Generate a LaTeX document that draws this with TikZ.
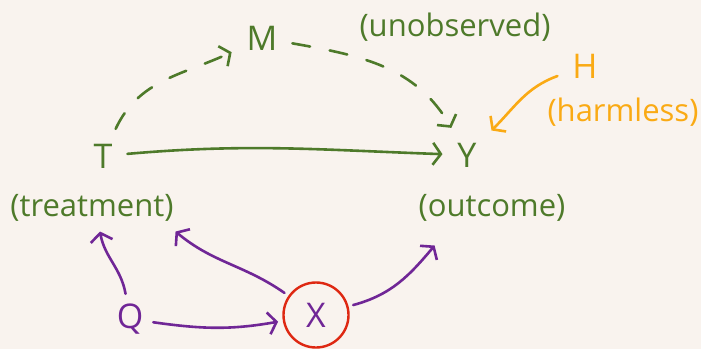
\documentclass[tikz,border=0pt]{standalone}
\usepackage{fontspec}
\setmainfont{Open Sans}
\usetikzlibrary{arrows.meta, positioning}

\definecolor{paper}{RGB}{249,243,238}
\definecolor{leaf}{RGB}{78,122,42}
\definecolor{amber}{RGB}{250,170,20}
\definecolor{grape}{RGB}{112,38,150}
\definecolor{ink}{RGB}{222,40,18}

\begin{document}
\begin{tikzpicture}[
    x=1pt, y=1pt,
    every node/.style={font=\fontsize{34}{38}\selectfont, inner sep=2pt, outer sep=13pt},
    var/.style={text=#1},
    note/.style={text=#1, font=\fontsize{31}{36}\selectfont, outer sep=4pt},
    link/.style={draw=#1, line width=2.6pt, line cap=round,
        -{Straight Barb[length=8pt, width=22pt, line width=2.6pt]}},
    hidden/.style={dash pattern=on 18pt off 20pt}
]

\fill[paper] (0,0) rectangle (701,349);
\useasboundingbox (0,0) rectangle (701,349);

% variables
\node[var=leaf] (T) at (103,193) {T};
\node[note=leaf] (treat) at (92,141) {(treatment)};
\node[var=leaf] (M) at (262,311) {M};
\node[note=leaf] (unobs) at (455,322) {(unobserved)};
\node[var=leaf] (Y) at (467,194) {Y};
\node[note=leaf] (outc) at (492,141) {(outcome)};
\node[var=amber] (H) at (585,283) {H};
\node[note=amber] (harm) at (623,237) {(harmless)};
\node[var=grape, outer sep=8pt] (Q) at (130,30) {Q};
\node[var=grape, draw=ink, line width=2.4pt, circle, minimum size=65pt, outer sep=6pt] (X) at (316,34) {X};

% edges
\draw[link=leaf, hidden] (T) to[out=65, in=205] (M);
\draw[link=leaf, hidden] (M) to[out=-10, in=120] (Y);
\draw[link=leaf] (T) to[out=5, in=178] (Y);
\draw[link=amber] (H) to[out=200, in=45] (Y);
\draw[link=grape] (Q) to[out=100, in=-80] ([xshift=8pt,yshift=-4pt]treat.south);
\draw[link=grape] (X) to[out=145, in=-40] ([xshift=-4pt,yshift=-4pt]treat.south east);
\draw[link=grape] (Q) to[out=-8, in=190] (X);
\draw[link=grape] (X) to[out=15, in=-130] ([xshift=22pt,yshift=-18pt]outc.south west);

\end{tikzpicture}
\end{document}
